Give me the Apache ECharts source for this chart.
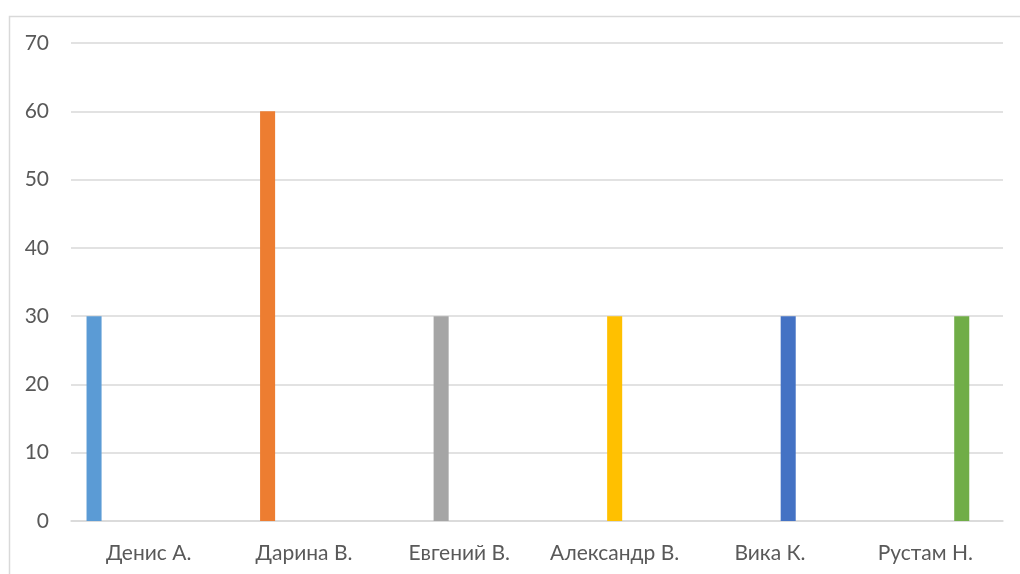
<!DOCTYPE html>
<html><head><meta charset="utf-8">
<script src="https://cdn.jsdelivr.net/npm/echarts@6/dist/echarts.min.js"></script>
<style>html,body{margin:0;padding:0;background:#fff}#c{width:1020px;height:574px}</style>
</head><body><div id="c"></div>
<script>
const categories = ['Денис А.', 'Дарина В.', 'Евгений В.', 'Александр В.', 'Вика К.', 'Рустам Н.'];
const seriesNames = ['Ряд 1', 'Ряд 2', 'Ряд 3', 'Ряд 4', 'Ряд 5', 'Ряд 6', 'Ряд 7'];
const s1 = [30, null, null, null, null, null];
const s2 = [null, 60, null, null, null, null];
const s3 = [null, null, 30, null, null, null];
const s4 = [null, null, null, 30, null, null];
const s5 = [null, null, null, null, 30, null];
const s6 = [null, null, null, null, null, 30];
const s7 = [null, null, null, null, null, null];
const yTicks = { min: 0, max: 70, interval: 10 };
const colors = ['#5B9BD5', '#ED7D31', '#A5A5A5', '#FFC000', '#4472C4', '#70AD47', '#264478'];

const allData = [s1, s2, s3, s4, s5, s6, s7];
const font = 'Lato, "Noto Sans", sans-serif';
const chart = echarts.init(document.getElementById('c'));
chart.setOption({
  animation: false,
  backgroundColor: '#fff',
  graphic: [{
    type: 'rect', left: 7, top: 14, silent: true,
    shape: { width: 1040, height: 600 },
    style: { fill: 'none', stroke: '#d9d9d9', lineWidth: 1.5 }
  }],
  grid: { left: 71, right: 17, top: 43, bottom: 53, containLabel: false },
  xAxis: {
    type: 'category', data: categories,
    axisLine: { show: true, lineStyle: { color: '#d9d9d9', width: 1.5 } },
    axisTick: { show: false },
    axisLabel: { color: '#595959', fontSize: 21, fontFamily: font, margin: 22, interval: 0, hideOverlap: false }
  },
  yAxis: {
    type: 'value', min: yTicks.min, max: yTicks.max, interval: yTicks.interval,
    axisLine: { show: false }, axisTick: { show: false },
    splitLine: { lineStyle: { color: '#d9d9d9', width: 1.5 } },
    axisLabel: { color: '#595959', fontSize: 21, fontFamily: font, margin: 22 }
  },
  series: allData.map((d, i) => ({
    type: 'bar', name: seriesNames[i], data: d,
    itemStyle: { color: colors[i] },
    barGap: '21%', barCategoryGap: '20%'
  }))
});
</script></body></html>
